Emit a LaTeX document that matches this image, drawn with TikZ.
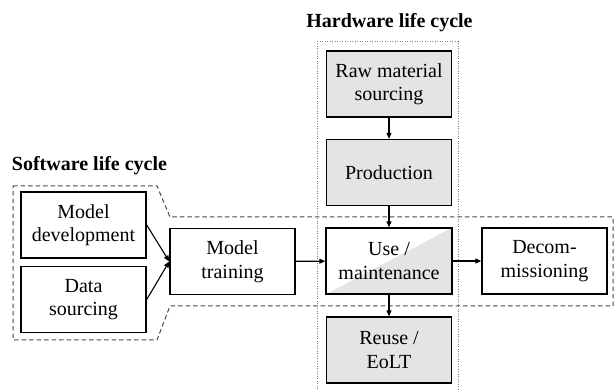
\documentclass[tikz,border=0pt]{standalone}
\usepackage{fontspec}
\setmainfont{Liberation Serif}
\usetikzlibrary{arrows.meta}

\definecolor{hwgray}{HTML}{E4E4E4}
\definecolor{swline}{HTML}{3E4866}

\tikzset{
    stagebox/.style={draw=black, line width=1.4pt, minimum width=125pt, minimum height=66pt,
        inner sep=0pt, align=center, font=\fontsize{20}{23.5}\selectfont},
    hwbox/.style={stagebox, fill=hwgray},
    flow/.style={line width=1.1pt, -{Triangle[length=6pt, width=5pt]}},
    cycletitle/.style={font=\fontsize{20}{22}\selectfont\bfseries, anchor=base},
}

\begin{document}
\begin{tikzpicture}[x=1pt, y=-1pt]
        \useasboundingbox (0, 0) rectangle (614, 390);

        % life cycle frames
        \draw[swline, line width=1pt, dash pattern=on 4.5pt off 3pt]
            (13, 186) -- (157, 186) -- (170, 217) -- (613, 217) -- (613, 306)
            -- (170, 306) -- (157, 340) -- (13, 340) -- cycle;
        \draw[gray, line width=1pt, dash pattern=on 1pt off 1.5pt] (317, 392) -- (317, 42) -- (458, 42) -- (458, 392);

        \node[cycletitle] (swtitle) at (89.5, 170.5) {Software life cycle};
        \node[cycletitle] (hwtitle) at (389.5, 27.5) {Hardware life cycle};

        % software side
        \node[stagebox] (modeldev) at (83.5, 225) {Model\\development};
        \node[stagebox] (datasrc) at (83.5, 299.5) {Data\\sourcing};
        \node[stagebox] (training) at (232.5, 261.5) {Model\\training};

        % hardware side
        \node[hwbox] (rawmat) at (389, 84) {Raw material\\sourcing};
        \node[hwbox] (production) at (389, 172.5) {Production};
        \node[stagebox, minimum width=126pt] (usemaint) at (389, 261) {};
        \fill[hwgray] (usemaint.south west) -- (usemaint.north east) -- (usemaint.south east) -- cycle;
        \node[stagebox, minimum width=126pt] at (usemaint) {Use /\\maintenance};
        \node[hwbox] (reuse) at (389, 350) {Reuse /\\EoLT};
        \node[stagebox] (decom) at (544.5, 261) {Decom-\\missioning};

        \draw[flow] (modeldev.east) -- (training.west);
        \draw[flow] (datasrc.east) -- (training.west);
        \draw[flow] (training) -- (usemaint);
        \draw[flow] (rawmat) -- (production);
        \draw[flow] (production) -- (usemaint);
        \draw[flow] (usemaint) -- (reuse);
        \draw[flow] (usemaint) -- (decom);
    \end{tikzpicture}
\end{document}
